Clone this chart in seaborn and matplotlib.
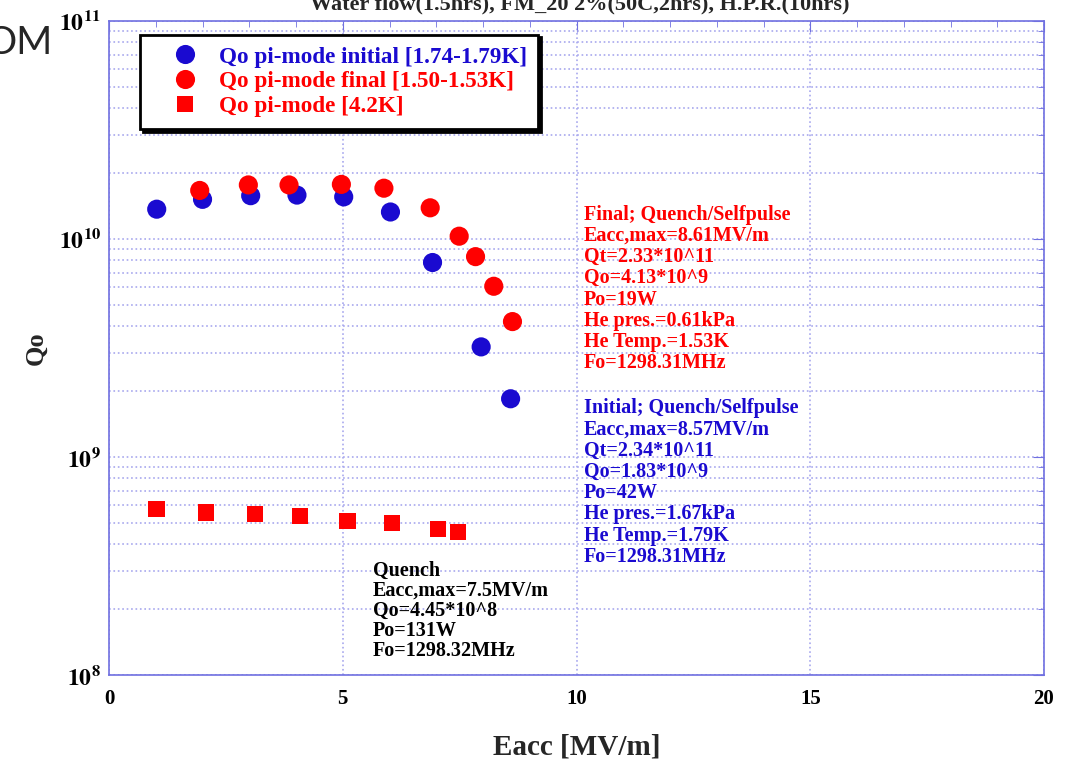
import math

import matplotlib
matplotlib.use("Agg")
import matplotlib.pyplot as plt
import matplotlib.ticker as mticker
import pandas as pd
import seaborn as sns

# Qo vs Eacc, pi-mode
eacc_initial = [1.02, 2.0, 3.03, 4.02, 5.02, 6.02, 6.92, 7.96, 8.59]
qo_initial = [1.37e10, 1.52e10, 1.58e10, 1.59e10, 1.56e10, 1.33e10, 7.8e9, 3.2e9, 1.85e9]

eacc_final = [1.94, 2.98, 3.85, 4.97, 5.88, 6.87, 7.49, 7.84, 8.23, 8.63]
qo_final = [1.67e10, 1.77e10, 1.77e10, 1.78e10, 1.71e10, 1.39e10, 1.03e10, 8.3e9, 6.07e9, 4.18e9]

eacc_42k = [1.02, 2.07, 3.12, 4.08, 5.1, 6.05, 7.04, 7.46]
qo_42k = [5.78e8, 5.57e8, 5.48e8, 5.35e8, 5.1e8, 4.98e8, 4.67e8, 4.52e8]

series_labels = [
    "Qo pi-mode initial [1.74-1.79K]",
    "Qo pi-mode final [1.50-1.53K]",
    "Qo pi-mode [4.2K]",
]

final_note = ["Final; Quench/Selfpulse", "Eacc,max=8.61MV/m", "Qt=2.33*10^11",
              "Qo=4.13*10^9", "Po=19W", "He pres.=0.61kPa", "He Temp.=1.53K",
              "Fo=1298.31MHz"]
initial_note = ["Initial; Quench/Selfpulse", "Eacc,max=8.57MV/m", "Qt=2.34*10^11",
                "Qo=1.83*10^9", "Po=42W", "He pres.=1.67kPa", "He Temp.=1.79K",
                "Fo=1298.31MHz"]
quench_note = ["Quench", "Eacc,max=7.5MV/m", "Qo=4.45*10^8", "Po=131W",
               "Fo=1298.32MHz"]

title = "Water flow(1.5hrs), FM_20 2%(50C,2hrs), H.P.R.(10hrs)"

BLUE = "#1a0ad0"
RED = "#ff0000"
GRID = "#a8a8ee"

sns.set_style("white")
plt.rcParams["font.family"] = ["Liberation Serif", "DejaVu Serif"]
plt.rcParams["font.weight"] = "bold"
plt.rcParams["mathtext.fontset"] = "stix"


def main():
    df = pd.concat([
        pd.DataFrame({"Eacc": eacc_initial, "Qo": qo_initial, "series": series_labels[0]}),
        pd.DataFrame({"Eacc": eacc_final, "Qo": qo_final, "series": series_labels[1]}),
        pd.DataFrame({"Eacc": eacc_42k, "Qo": qo_42k, "series": series_labels[2]}),
    ], ignore_index=True)

    fig = plt.figure(figsize=(10.7, 7.6), dpi=100)
    ax = fig.add_axes([0.1019, 0.1118, 0.8738, 0.8606])

    sns.scatterplot(
        data=df, x="Eacc", y="Qo", hue="series", style="series", size="series",
        palette=[BLUE, RED, RED], markers=["o", "o", "s"],
        sizes={series_labels[0]: 190, series_labels[1]: 190, series_labels[2]: 140},
        linewidth=0, ax=ax,
    )

    ax.set_yscale("log")
    ax.set_xlim(0, 20)
    ax.set_ylim(1e8, 1e11)
    ax.set_xticks([0, 5, 10, 15, 20])
    ax.yaxis.set_major_formatter(
        mticker.FuncFormatter(lambda v, p: r"$\mathbf{10^{%d}}$" % round(math.log10(v)))
    )
    ax.yaxis.set_minor_formatter(mticker.NullFormatter())
    ax.xaxis.set_minor_locator(mticker.MultipleLocator(1))

    ax.grid(True, which="major", axis="x", color=GRID, linestyle=":", linewidth=1.2)
    ax.grid(True, which="both", axis="y", color=GRID, linestyle=":", linewidth=1.2)
    ax.set_axisbelow(True)

    for sp in ax.spines.values():
        sp.set_color("#7070e0")
        sp.set_linewidth(1.2)
    ax.tick_params(which="both", direction="in", top=True, right=True, colors="#7070e0",
                   labelcolor="black")
    ax.tick_params(which="major", length=8, labelsize=15, pad=10)
    ax.tick_params(axis="y", which="major", labelsize=17, pad=6)
    ax.tick_params(which="minor", length=4)
    for lab in ax.get_xticklabels():
        lab.set_fontweight("bold")

    ax.set_xlabel("Eacc [MV/m]", fontsize=21, fontweight="bold", labelpad=18)
    ax.set_ylabel("Qo", fontsize=19, fontweight="bold", labelpad=8)

    # legend with solid black drop shadow
    handles, labels = ax.get_legend_handles_labels()
    leg = ax.legend(handles, labels, loc="upper left", bbox_to_anchor=(0.033, 0.979),
                    fontsize=16.7, frameon=True, fancybox=False,
                    shadow={"color": "black", "alpha": 1},
                    handlelength=2.9, handletextpad=0.0, borderpad=0.5,
                    labelspacing=0.16, borderaxespad=0)
    leg.get_frame().set_edgecolor("black")
    leg.get_frame().set_linewidth(2)
    for txt, col in zip(leg.get_texts(), [BLUE, RED, RED]):
        txt.set_color(col)

    ax.text(0.508, 0.719, "\n".join(final_note), transform=ax.transAxes, color=RED,
            fontsize=14.5, va="top", ha="left", linespacing=1.08)
    ax.text(0.508, 0.423, "\n".join(initial_note), transform=ax.transAxes, color=BLUE,
            fontsize=14.5, va="top", ha="left", linespacing=1.08)
    ax.text(0.282, 0.174, "\n".join(quench_note), transform=ax.transAxes, color="black",
            fontsize=14.5, va="top", ha="left", linespacing=0.99)

    # title cut off at the top edge of the screenshot
    fig.text(0.542, 1 - 9 / 760, title, ha="center", va="baseline", fontsize=16,
             fontweight="bold")
    # stray slide text at top left
    fig.text(52 / 1070, 1 - 54 / 760, "OM", ha="right", va="baseline", fontsize=28,
             fontweight="normal", family=["Lato", "DejaVu Sans"])

    fig.savefig("out.png", dpi=100)


if __name__ == "__main__":
    main()
